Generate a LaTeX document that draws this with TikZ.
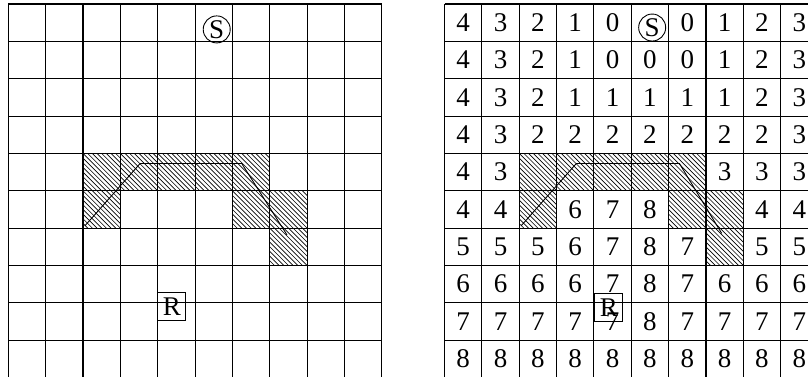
\documentclass[tikz,border=0pt]{standalone}
\usepackage{fontspec}
\setmainfont{Liberation Serif}
\begin{document}
\begin{tikzpicture}[x=1pt,y=-1pt,
  gridline/.style={line width=1.1pt},
  hatchline/.style={line width=0.65pt},
  pathline/.style={line width=0.9pt},
  num/.style={font=\fontsize{27}{27}\selectfont, inner sep=0pt, anchor=center},
  startmark/.style={draw, circle, line width=0.9pt, minimum size=27pt, inner sep=0pt, font=\fontsize{27}{27}\selectfont},
  robotmark/.style={draw, rectangle, line width=0.9pt, minimum width=28pt, minimum height=28pt, inner sep=0pt, font=\fontsize{27}{27}\selectfont}]
\useasboundingbox (0,0) rectangle (808,376);
\clip (0,0) rectangle (808,376);

% ---------- left grid ----------
\begin{scope}[shift={(8.3pt,-4pt)}, x=37.35pt, y=-37.35pt]
  \foreach \c/\r in {2/4,3/4,4/4,5/4,6/4,2/5,6/5,7/5,7/6} {
    \begin{scope}
      \clip (\c,\r) rectangle ++(1,1);
      \foreach \t in {-8,...,8}
        \draw[hatchline] (\c+\t/8,\r) -- ++(1,1);
    \end{scope}
  }
  \foreach \i in {0,...,10} {
    \draw[gridline] (\i,0) -- (\i,10);
    \draw[gridline] (0,\i) -- (10,\i);
  }
  \coordinate (La) at (2.05,5.94);
  \coordinate (Lb) at (3.53,4.27);
  \coordinate (Lc) at (6.25,4.27);
  \coordinate (Ld) at (7.46,6.18);
  \draw[pathline] (La) -- (Lb) -- (Lc) -- (Ld);
  \node[startmark] (S1) at (5.58,0.68) {S};
  \node[robotmark] (R1) at (4.38,8.11) {R};
\end{scope}

% ---------- right grid ----------
\begin{scope}[shift={(444.5pt,-4pt)}, x=37.35pt, y=-37.35pt]
  \foreach \c/\r in {2/4,3/4,4/4,5/4,6/4,2/5,6/5,7/5,7/6} {
    \begin{scope}
      \clip (\c,\r) rectangle ++(1,1);
      \foreach \t in {-8,...,8}
        \draw[hatchline] (\c+\t/8,\r) -- ++(1,1);
    \end{scope}
  }
  \foreach \i in {0,...,10} {
    \draw[gridline] (\i,0) -- (\i,10);
    \draw[gridline] (0,\i) -- (10,\i);
  }
  \foreach \r/\row in {
    0/{4,3,2,1,0,x,0,1,2,3},
    1/{4,3,2,1,0,0,0,1,2,3},
    2/{4,3,2,1,1,1,1,1,2,3},
    3/{4,3,2,2,2,2,2,2,2,3},
    4/{4,3,x,x,x,x,x,3,3,3},
    5/{4,4,x,6,7,8,x,x,4,4},
    6/{5,5,5,6,7,8,7,x,5,5},
    7/{6,6,6,6,7,8,7,6,6,6},
    8/{7,7,7,7,7,8,7,7,7,7},
    9/{8,8,8,8,8,8,8,8,8,8}} {
    \foreach \v [count=\k from 0] in \row {
      \if x\v\else
        \node[num] (n-\r-\k) at (\k+0.5,\r+0.5) {\v};
      \fi
    }
  }
  \coordinate (Ra) at (2.05,5.94);
  \coordinate (Rb) at (3.53,4.27);
  \coordinate (Rc) at (6.29,4.27);
  \coordinate (Rd) at (7.42,6.14);
  \draw[pathline] (Ra) -- (Rb) -- (Rc) -- (Rd);
  \node[startmark] (S2) at (5.56,0.63) {S};
  \node[robotmark] (R2) at (4.40,8.13) {R};
\end{scope}
\end{tikzpicture}
\end{document}
